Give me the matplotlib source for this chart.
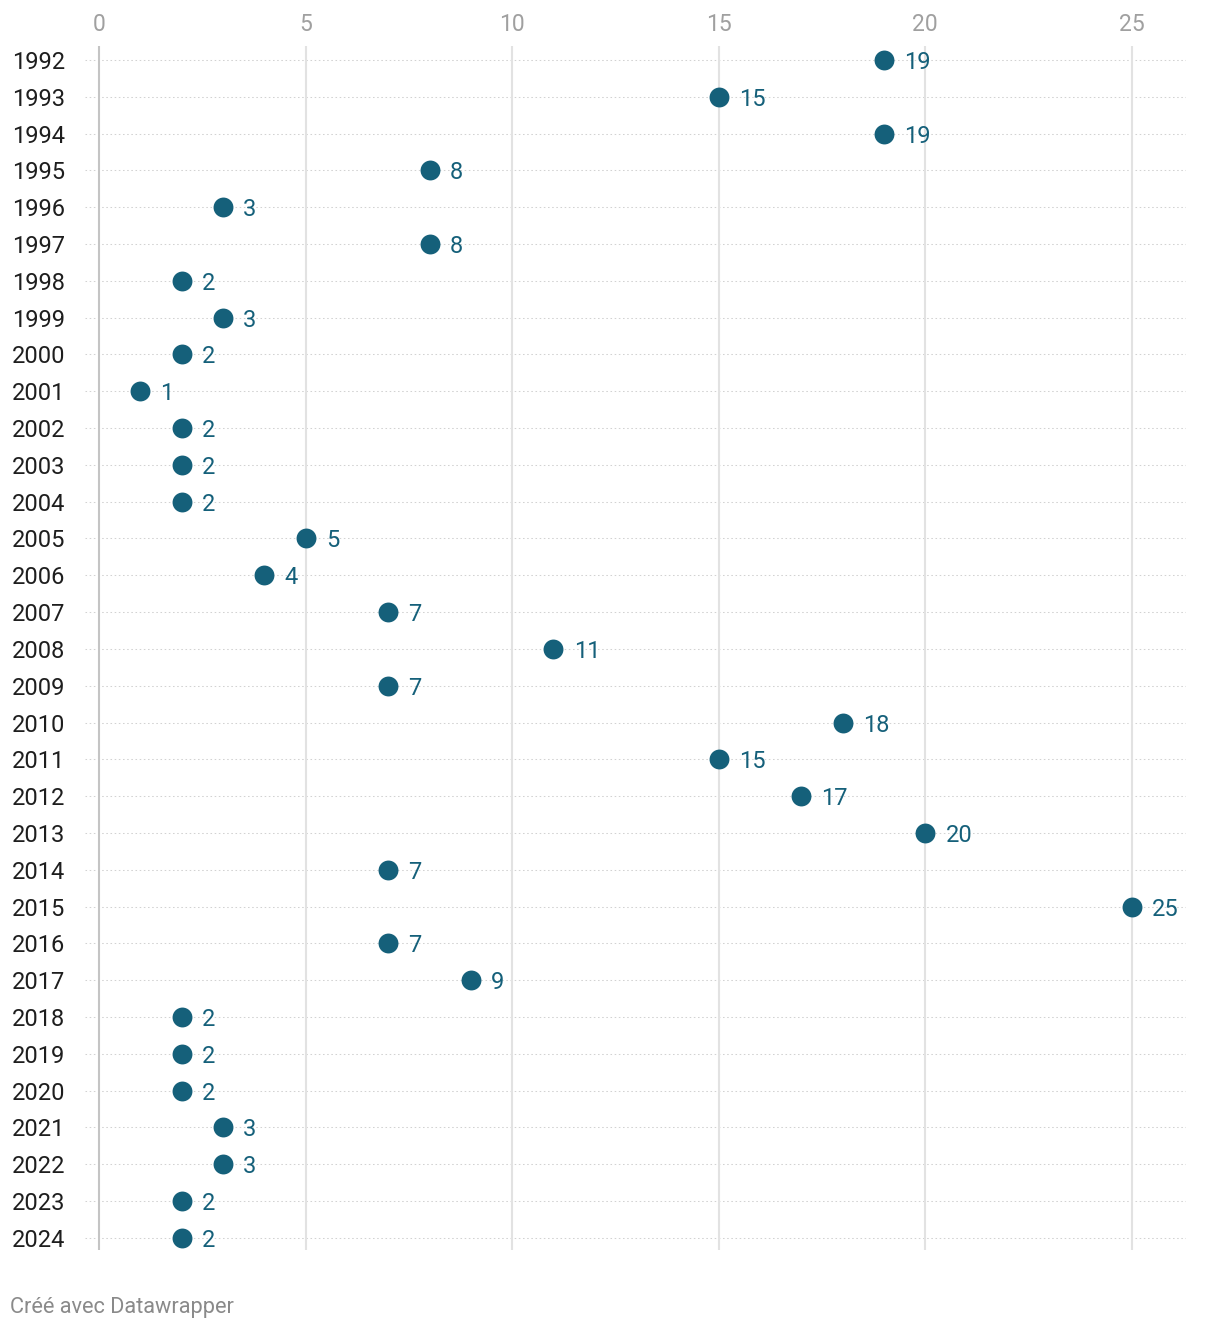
import matplotlib.pyplot as plt

years = list(range(1992, 2025))
values = [19, 15, 19, 8, 3, 8, 2, 3, 2, 1, 2, 2, 2, 5, 4, 7, 11, 7, 18, 15,
          17, 20, 7, 25, 7, 9, 2, 2, 2, 3, 3, 2, 2]
x_ticks = [0, 5, 10, 15, 20, 25]

dot_color = '#15607a'
plt.rcParams['font.family'] = ['Roboto', 'DejaVu Sans']

fig = plt.figure(figsize=(12.2, 13.28), dpi=100)
ax = fig.add_axes([0.0697, 0.0587, 0.9024, 0.9067])

# gridlines
for t in x_ticks:
    ax.axvline(t, color='#c4c4c4' if t == 0 else '#e2e2e2', lw=1.5, zorder=1)
for y in years:
    ax.axhline(y, color='#d2d2d2', lw=0.75, ls=(0, (1.5, 2.5)), zorder=0)

ax.scatter(values, years, s=205, color=dot_color, zorder=3, linewidths=0)
for v, y in zip(values, years):
    ax.annotate(str(v), (v, y), xytext=(14.5, 0), textcoords='offset points',
                va='center_baseline', ha='left', fontsize=17, color=dot_color)

ax.set_xlim(-0.34, 26.31)
ax.set_ylim(2024 + 0.33, 1992 - 0.38)

ax.xaxis.tick_top()
ax.set_xticks(x_ticks)
ax.set_xticklabels([str(t) for t in x_ticks])
ax.tick_params(axis='x', length=0, pad=7, labelsize=16.5, labelcolor='#a0a0a0')

ax.set_yticks(years)
ax.set_yticklabels([str(y) for y in years])
ax.tick_params(axis='y', length=0, pad=52.5, labelsize=17, labelcolor='#1e1e1e')
for lbl in ax.get_yticklabels():
    lbl.set_horizontalalignment('left')
    lbl.set_verticalalignment('center_baseline')

for s in ax.spines.values():
    s.set_visible(False)

fig.text(10 / 1220, 1 - 1305 / 1328, 'Créé avec Datawrapper', fontsize=15.7,
         color='#8a8a8a', ha='left', va='center_baseline')

fig.savefig('out.png', dpi=100)
